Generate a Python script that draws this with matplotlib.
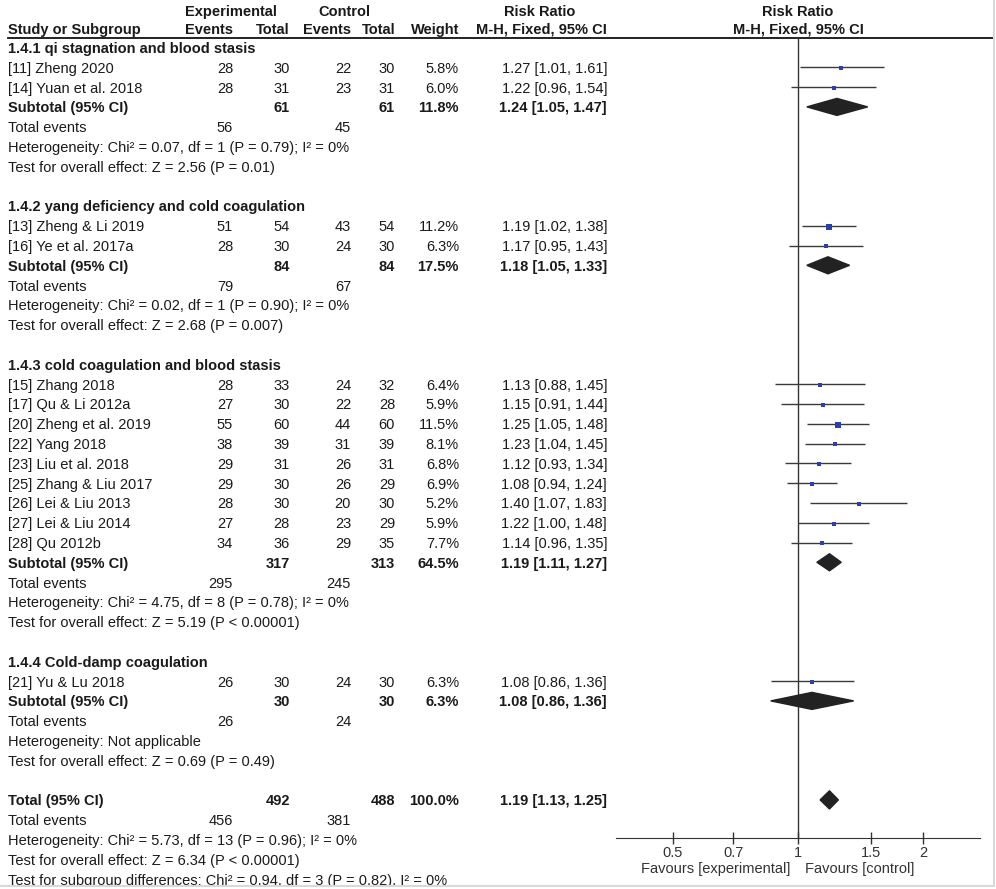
import numpy as np
import matplotlib
matplotlib.use("Agg")
import matplotlib.pyplot as plt

# forest plot: risk ratio by syndrome subgroup

plt.rcParams['font.family'] = ['Liberation Sans', 'DejaVu Sans']
plt.rcParams['font.size'] = 10.5

# study data
studies = ["[11] Zheng 2020", "[14] Yuan et al. 2018",
           "[13] Zheng & Li 2019", "[16] Ye et al. 2017a",
           "[15] Zhang 2018", "[17] Qu & Li 2012a", "[20] Zheng et al. 2019",
           "[22] Yang 2018", "[23] Liu et al. 2018", "[25] Zhang & Liu 2017",
           "[26] Lei & Liu 2013", "[27] Lei & Liu 2014", "[28] Qu 2012b",
           "[21] Yu & Lu 2018"]
group = [0, 0, 1, 1, 2, 2, 2, 2, 2, 2, 2, 2, 2, 3]
exp_events = [28, 28, 51, 28, 28, 27, 55, 38, 29, 29, 28, 27, 34, 26]
exp_total = [30, 31, 54, 30, 33, 30, 60, 39, 31, 30, 30, 28, 36, 30]
ctl_events = [22, 23, 43, 24, 24, 22, 44, 31, 26, 26, 20, 23, 29, 24]
ctl_total = [30, 31, 54, 30, 32, 28, 60, 39, 31, 29, 30, 29, 35, 30]
weight = [5.8, 6.0, 11.2, 6.3, 6.4, 5.9, 11.5, 8.1, 6.8, 6.9, 5.2, 5.9, 7.7, 6.3]
rr = [1.27, 1.22, 1.19, 1.17, 1.13, 1.15, 1.25, 1.23, 1.12, 1.08, 1.40, 1.22, 1.14, 1.08]
rr_lo = [1.01, 0.96, 1.02, 0.95, 0.88, 0.91, 1.05, 1.04, 0.93, 0.94, 1.07, 1.00, 0.96, 0.86]
rr_hi = [1.61, 1.54, 1.38, 1.43, 1.45, 1.44, 1.48, 1.45, 1.34, 1.24, 1.83, 1.48, 1.35, 1.36]

# subgroups
sub_names = ["1.4.1 qi stagnation and blood stasis",
             "1.4.2 yang deficiency and cold coagulation",
             "1.4.3 cold coagulation and blood stasis",
             "1.4.4 Cold-damp coagulation"]
sub_exp_total = [61, 84, 317, 30]
sub_ctl_total = [61, 84, 313, 30]
sub_weight = [11.8, 17.5, 64.5, 6.3]
sub_rr = [1.24, 1.18, 1.19, 1.08]
sub_lo = [1.05, 1.05, 1.11, 0.86]
sub_hi = [1.47, 1.33, 1.27, 1.36]
sub_exp_events = [56, 79, 295, 26]
sub_ctl_events = [45, 67, 245, 24]
sub_het = ["Heterogeneity: Chi\u00b2 = 0.07, df = 1 (P = 0.79); I\u00b2 = 0%",
           "Heterogeneity: Chi\u00b2 = 0.02, df = 1 (P = 0.90); I\u00b2 = 0%",
           "Heterogeneity: Chi\u00b2 = 4.75, df = 8 (P = 0.78); I\u00b2 = 0%",
           "Heterogeneity: Not applicable"]
sub_test = ["Test for overall effect: Z = 2.56 (P = 0.01)",
            "Test for overall effect: Z = 2.68 (P = 0.007)",
            "Test for overall effect: Z = 5.19 (P < 0.00001)",
            "Test for overall effect: Z = 0.69 (P = 0.49)"]

# overall
tot_exp_total, tot_ctl_total = 492, 488
tot_exp_events, tot_ctl_events = 456, 381
tot_rr, tot_lo, tot_hi = 1.19, 1.13, 1.25
tot_lines = ["Heterogeneity: Chi\u00b2 = 5.73, df = 13 (P = 0.96); I\u00b2 = 0%",
             "Test for overall effect: Z = 6.34 (P < 0.00001)",
             "Test for subgroup differences: Chi\u00b2 = 0.94, df = 3 (P = 0.82), I\u00b2 = 0%"]

ticks = [0.5, 0.7, 1, 1.5, 2]

W, H = 996, 889
Y0, DY = 47.5, 19.8   # pixel of row 0, row pitch
TOFF = 0.08           # text sits a touch below the marker line


def prow(py):
    return (py - Y0) / DY


fig = plt.figure(figsize=(W / 100, H / 100), dpi=100)
ax = fig.add_axes([0, 0, 1, 1])
ax.set_xlim(0, W)
ax.set_ylim(prow(H), prow(0))
ax.axis('off')

axf = fig.add_axes([616 / W, (H - 838) / H, (980 - 616) / W, (838 - 38) / H])
axf.set_xscale('log')
axf.set_xlim(np.exp(-1.006), np.exp(1.006))
axf.set_ylim(prow(838), prow(38))
axf.patch.set_alpha(0)
for s in ['top', 'left', 'right']:
    axf.spines[s].set_visible(False)
axf.spines['bottom'].set_color('#333333')
axf.set_xticks(ticks)
axf.set_xticklabels([str(t) for t in ticks], color='#333333')
axf.minorticks_off()
axf.tick_params(axis='x', direction='inout', length=8, width=1, color='#333333', pad=2)
axf.set_yticks([])
axf.axvline(1, color='#333333', lw=1, zorder=1)

TXT = '#1a1a1a'
X_ST, X_EE, X_ET, X_CE, X_CT, X_W, X_RR = 8, 233, 290, 351, 395, 459, 607


def txt(x, r, s, ha='right', bold=False):
    ax.text(x, r + TOFF, s, ha=ha, va='center', color=TXT,
            fontweight='bold' if bold else 'normal')


def diamond(r, est, lo, hi, h):
    axf.fill([lo, est, hi, est], [r, r - h, r, r + h], color='#222222', zorder=3)


# header
ax.text(231, prow(12), "Experimental", ha='center', va='center', fontweight='bold', color=TXT)
ax.text(344, prow(12), "Control", ha='center', va='center', fontweight='bold', color=TXT)
ax.text(540, prow(12), "Risk Ratio", ha='center', va='center', fontweight='bold', color=TXT)
ax.text(798, prow(12), "Risk Ratio", ha='center', va='center', fontweight='bold', color=TXT)
hr = prow(30) - TOFF
txt(X_ST, hr, "Study or Subgroup", ha='left', bold=True)
txt(X_EE, hr, "Events", bold=True)
txt(X_ET, hr, "Total", bold=True)
txt(X_CE, hr, "Events", bold=True)
txt(X_CT, hr, "Total", bold=True)
txt(X_W, hr, "Weight", bold=True)
txt(X_RR, hr, "M-H, Fixed, 95% CI", bold=True)
txt(798, hr, "M-H, Fixed, 95% CI", ha='center', bold=True)
ax.plot([8, 993], [prow(38), prow(38)], color='#111111', lw=1.3)

# body
r = 0
for g in range(4):
    txt(X_ST, r, sub_names[g], ha='left', bold=True)
    r += 1
    for i in range(len(studies)):
        if group[i] != g:
            continue
        txt(X_ST, r, studies[i], ha='left')
        txt(X_EE, r, str(exp_events[i]))
        txt(X_ET, r, str(exp_total[i]))
        txt(X_CE, r, str(ctl_events[i]))
        txt(X_CT, r, str(ctl_total[i]))
        txt(X_W, r, f"{weight[i]:.1f}%")
        txt(X_RR, r, f"{rr[i]:.2f} [{rr_lo[i]:.2f}, {rr_hi[i]:.2f}]")
        axf.hlines(r, rr_lo[i], rr_hi[i], color='#3a3a3a', lw=1, zorder=2)
        side = (2.2 + 0.3 * weight[i]) * 0.72
        axf.scatter([rr[i]], [r + 0.05], marker='s', s=side ** 2, color='#2e3fa6',
                    linewidths=0, zorder=4)
        r += 1
    txt(X_ST, r, "Subtotal (95% CI)", ha='left', bold=True)
    txt(X_ET, r, str(sub_exp_total[g]), bold=True)
    txt(X_CT, r, str(sub_ctl_total[g]), bold=True)
    txt(X_W, r, f"{sub_weight[g]:.1f}%", bold=True)
    txt(X_RR, r, f"{sub_rr[g]:.2f} [{sub_lo[g]:.2f}, {sub_hi[g]:.2f}]", bold=True)
    diamond(r, sub_rr[g], sub_lo[g], sub_hi[g], 0.43)
    r += 1
    txt(X_ST, r, "Total events", ha='left')
    txt(X_EE, r, str(sub_exp_events[g]))
    txt(X_CE, r, str(sub_ctl_events[g]))
    r += 1
    txt(X_ST, r, sub_het[g], ha='left')
    r += 1
    txt(X_ST, r, sub_test[g], ha='left')
    r += 2

# overall
txt(X_ST, r, "Total (95% CI)", ha='left', bold=True)
txt(X_ET, r, str(tot_exp_total), bold=True)
txt(X_CT, r, str(tot_ctl_total), bold=True)
txt(X_W, r, "100.0%", bold=True)
txt(X_RR, r, f"{tot_rr:.2f} [{tot_lo:.2f}, {tot_hi:.2f}]", bold=True)
diamond(r, tot_rr, tot_lo, tot_hi, 0.46)
r += 1
txt(X_ST, r, "Total events", ha='left')
txt(X_EE, r, str(tot_exp_events))
txt(X_CE, r, str(tot_ctl_events))
r += 1
for line in tot_lines:
    txt(X_ST, r, line, ha='left')
    r += 1

# favours labels
ax.text(790, prow(869), "Favours [experimental]", ha='right', va='center', color='#333333')
ax.text(805, prow(869), "Favours [control]", ha='left', va='center', color='#333333')

# light frame at right and bottom
ax.axhspan(prow(886), prow(H), color='white', zorder=5)
ax.plot([994, 994], [prow(0), prow(886)], color='#d9d9d9', lw=1.5, zorder=6)
ax.plot([0, 994], [prow(886), prow(886)], color='#d9d9d9', lw=1.5, zorder=6)

fig.savefig("out.png", dpi=100)
